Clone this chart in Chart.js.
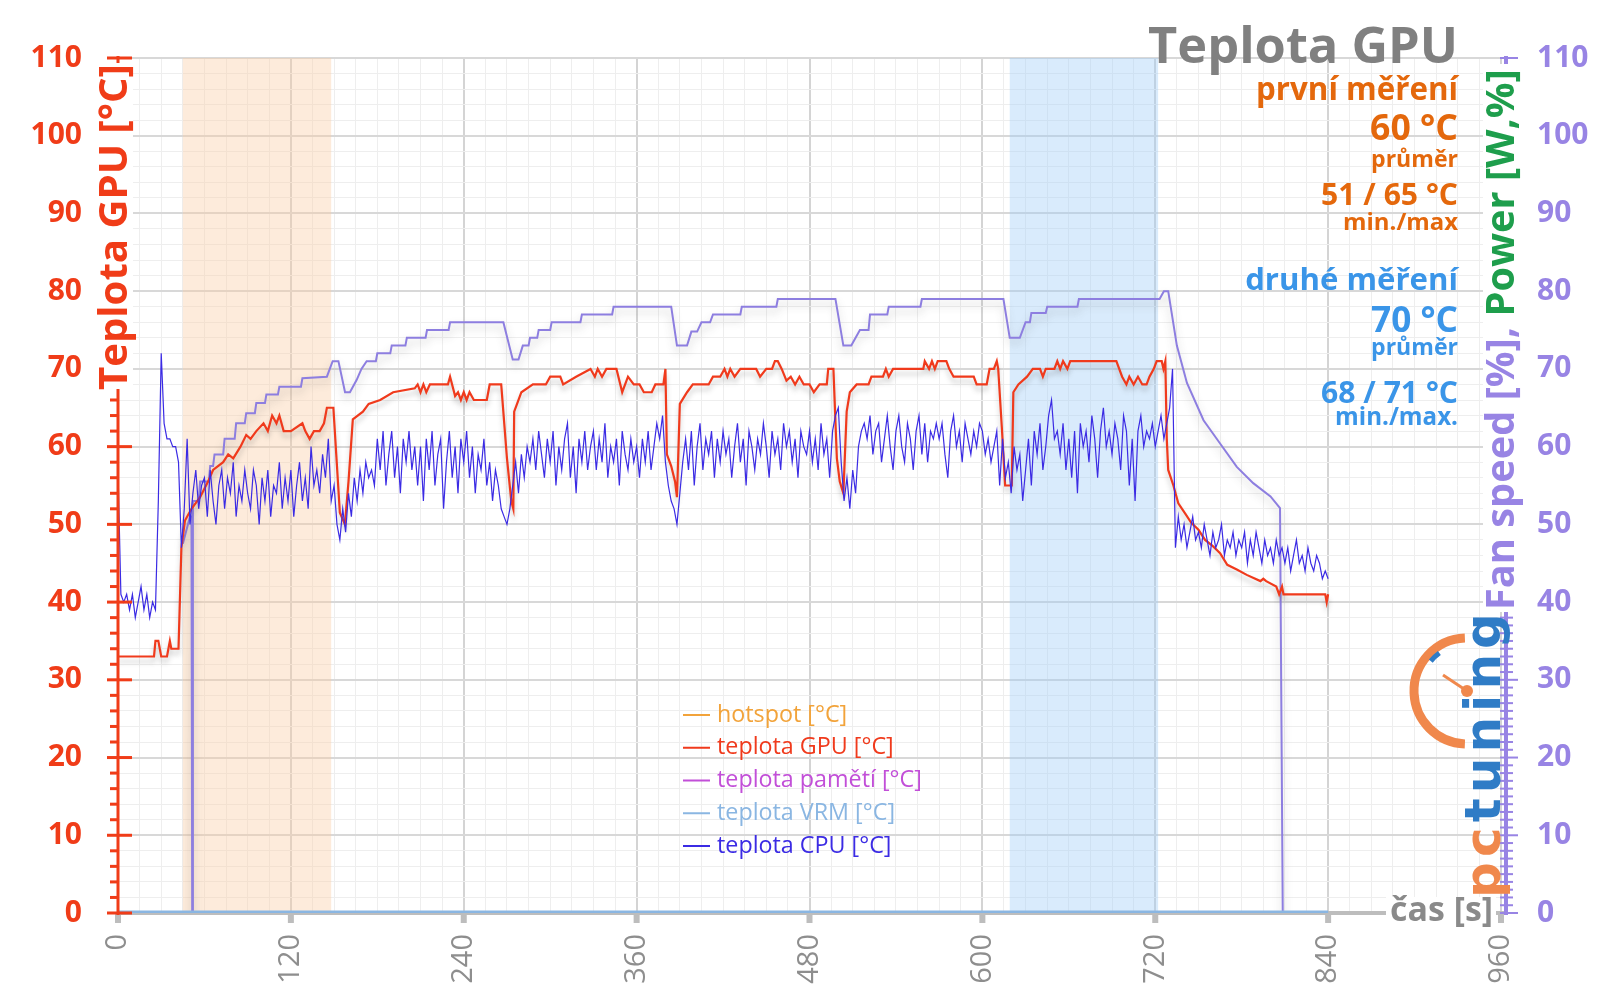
<!DOCTYPE html>
<html>
<head>
<meta charset="utf-8">
<title>Teplota GPU</title>
<script src="https://cdn.jsdelivr.net/npm/chart.js@4.4.1/dist/chart.umd.min.js"></script>
<style>
  html, body { margin: 0; padding: 0; background: #fff; }
  #wrap { width: 1600px; height: 1008px; }
</style>
</head>
<body>
<div id="wrap"><canvas id="chart" width="1600" height="1008"></canvas></div>
<script>
// ---- data ----
// osa x [s] a popisky os
const xTickLabels = [0, 120, 240, 360, 480, 600, 720, 840, 960];
const yTickLabels = [0, 10, 20, 30, 40, 50, 60, 70, 80, 90, 100, 110];

// zvýrazněné úseky měření [s]
const firstRun = [45, 148];
const secondRun = [619, 722];

// texty statistik
const titleText = 'Teplota GPU';
const statsFirst = ['první měření', '60 °C', 'průměr', '51 / 65 °C', 'min./max'];
const statsSecond = ['druhé měření', '70 °C', 'průměr', '68 / 71 °C', 'min./max.'];

// teplota GPU [°C] – body [čas, hodnota]
const gpuPoints = [[0,33],[25,33],[26,35],[28,35],[30,33],[34,33],[36,35],[37,34],[42,34],[44,47],[46.5,50.5],[51,52],[57,53.5],[62.5,55.5],[66,57],[73,58],[76.5,59],[80,58.5],[85,60],[89,61.5],[92,61],[96,62],[101,63],[104,62],[107,64],[110,63],[112,64],[115,62],[120,62],[128,63],[130,62],[133,61],[136,62],[140,62],[143,63],[145,65],[149.5,65],[154,51.5],[157.5,50],[160,55.5],[163,63.5],[170,64.5],[174,65.5],[182,66],[191,67],[206,67.5],[208,68],[210,67],[212,68],[214,67],[216.5,68],[229,68],[230.5,69],[234,66.5],[236,67],[238,66],[240,67],[242,66],[244,67],[247,66],[256,66],[258,68],[266,68],[270,58.5],[273,53],[274.4,52],[275,64.5],[277,65.5],[280,67],[288,68],[297,68],[300,69],[307,69],[309,68],[318,69],[328,70],[331,69],[333,70],[336,69],[339,70],[346,70],[350,67],[354,69],[358,68],[362,68],[365,67],[370.5,67],[373,68],[378.6,68],[380,70],[381,59],[384,57.5],[386.7,55.5],[388,53.5],[390,65.5],[395,67],[399,68],[410,68],[413,69],[418,69],[421,70],[423,69],[425,70],[428,69],[432,70],[443,70],[445.7,69],[450,70],[454,70],[456,71],[458,71],[460.7,70],[464,68.5],[467,69],[470,68],[473,69],[476,68],[480,68],[483,67],[487,68],[492,68],[493,70],[496.6,70],[499,58.5],[501,55.5],[503.5,54],[505.8,64.5],[508,67],[512.7,68],[521,68],[523,69],[531,69],[533,70],[535,69],[538,70],[559,70],[560,71],[563,70],[565,71],[567,70],[569,71],[575,71],[577,70],[580,69],[594,69],[596,68],[603,68],[605,70],[608,70],[610,71],[611,70],[613.5,62.5],[615.8,55],[620.4,55],[621.5,67],[625,68],[631,69],[635,70],[640,70],[642,69],[644,70],[650,70],[652,71],[654,70],[656,71],[659,70],[661,71],[693,71],[697,69],[700,68],[702,69],[705,68],[708,69],[711,68],[714,68],[716,69],[719,70],[721,71],[724.5,71],[725.7,70],[727,71],[728,61],[729,57],[732.6,55],[736,52.7],[740.7,51.4],[745,50.2],[750,49.3],[754.6,48],[760,47.2],[765,46.3],[770,44.8],[776.6,44.2],[783.5,43.5],[793,42.7],[795,43],[797,42.7],[804,42],[806,41],[808,42],[809,41],[838,41],[839,40],[840,41]];

// otáčky ventilátoru [%] – body [čas, hodnota]
const fanPoints = [[45,47.5],[50,51],[51,51],[51.5,0],[52,53],[56,53],[57,55.5],[63,55.5],[64,57.5],[66,57.5],[67,59],[73,59],[74,61],[81,61],[82,63],[88,63],[89,64.3],[95,64.3],[96,65.6],[102,65.6],[103,66.7],[111,66.7],[112,67.7],[127,67.7],[128,68.8],[145,69],[149,71],[153,71],[157.6,67],[161,67],[165.7,68.6],[169,70],[172.6,71],[179,71],[180,72],[189,72],[190,73],[199.5,73],[200.5,74],[213.5,74],[214.5,75],[229.5,75],[230.5,76],[267.5,76],[274,71.2],[278,71.2],[281,73],[285,73],[286,74],[291,74],[292,75],[300,75],[301,76],[321,76],[322,77],[343,77],[344,78],[384,78],[388,73],[395,73],[398,74.8],[402,74.8],[405,76],[411,76],[413,77],[432,77],[433,78],[457,78],[458,79],[498,79],[503.5,73],[509,73],[515,75],[521,75],[522,77],[534,77],[535,78],[557,78],[558,79],[614.6,79],[619,74],[626,74],[630,76],[633,76],[634,77.2],[644,77.2],[645,78],[666,78],[667,79],[723,79],[726,80],[729,80],[735,73],[742,68.2],[753.5,63.4],[765,60.4],[776.6,57.4],[788,55.3],[800,53.6],[806.6,52.1],[808.5,0]];

// teplota VRM [°C] (nulová), hotspot a paměti bez hodnot
const vrmPoints = [[0,0],[840,0]];
const hotspotPoints = [];
const memoryPoints = [];

// teplota CPU [°C], vzorek každé 2 s od 0 s (řádek = 30 s)
const cpuStep = 2;
const cpuTemp = [
  57,41,40,41,39,41,38,40,42,39,41,38,40,39,53,
  72,63,61,61,60,60,58,47,52,61,50,54,57,52,55,
  56,51,57,53,50,55,57,52,56,54,58,51,55,53,57,
  54,52,57,55,50,56,53,57,51,55,54,58,52,56,53,
  57,51,55,58,53,56,52,60,55,57,54,59,56,61,53,
  55,50,48,52,49,54,51,56,53,57,54,58,56,57,55,
  61,57,62,55,59,62,56,60,54,61,58,62,57,60,55,
  60,53,61,57,62,55,59,61,52,58,62,56,60,54,61,
  58,62,56,60,54,59,57,61,55,58,53,57,55,52,51,
  50,52,55,58,54,59,56,60,58,61,57,62,59,56,61,
  58,62,55,60,57,61,63,56,60,54,61,58,62,57,60,
  62,57,61,58,63,56,60,58,61,55,62,59,57,61,58,
  60,56,61,58,62,57,60,63,61,64,58,55,53,52,50,
  54,58,61,57,62,55,60,63,57,61,59,62,56,61,58,
  62,59,61,56,60,63,58,61,55,62,60,57,61,59,63,
  60,56,62,59,61,57,63,60,62,58,61,56,62,60,59,
  62,58,61,57,63,59,61,56,62,64,65,58,53,56,52,
  57,54,60,62,63,61,64,59,62,63,58,61,64,60,57,
  62,64,60,58,63,61,57,62,64,59,63,58,62,61,63,
  61,63,59,56,62,64,60,62,58,63,61,59,62,60,63,
  62,59,61,58,60,62,55,61,56,58,54,60,57,59,53,
  57,61,55,62,59,63,57,60,64,66,61,62,59,63,57,
  61,56,62,54,63,60,62,58,64,61,56,62,65,60,62,
  59,63,61,57,64,62,55,61,53,62,64,60,62,61,63,
  60,62,64,61,63,65,70,47,51,48,50,47,49,51,48,
  49,47,50,48,46,49,47,48,50,46,48,47,49,46,48,
  47,49,45,48,46,49,47,45,48,46,47,45,48,46,47,
  45,47,44,46,48,45,46,44,47,45,44,46,45,43,44,
  43
];

// ---- vzhled ----
const FONT = '"Open Sans", "Noto Sans", sans-serif';
const COL = {
  axisRed: '#F03C18',
  gpu: '#F03A1C',
  cpu: '#3B2BE4',
  fan: '#8D7EE0',
  vrm: '#8AB6E2',
  hot: '#F2A33A',
  mem: '#C24FD8',
  rightAxis: '#9884E4',
  green: '#1E9E4C',
  gray: '#808080',
  orange: '#E4680C',
  blue: '#3A95E8'
};

const toXY = arr => arr.map(p => ({ x: p[0], y: p[1] }));
const cpuXY = cpuTemp.map((v, i) => ({ x: i * cpuStep, y: v }));

function fitSize(ctx, text, weight, width) {
  ctx.font = `${weight} 100px ${FONT}`;
  return 100 * width / ctx.measureText(text).width;
}

function rightText(ctx, text, x, y, width, weight, color) {
  const size = fitSize(ctx, text, weight, width);
  ctx.font = `${weight} ${size}px ${FONT}`;
  ctx.fillStyle = color;
  ctx.textAlign = 'right';
  ctx.textBaseline = 'alphabetic';
  ctx.fillText(text, x, y);
}

// stín pod čarami
const shadowPlugin = {
  id: 'shadow',
  beforeDatasetDraw(chart, args) {
    const ds = chart.data.datasets[args.index];
    if (!ds.shadowBlur) return;
    const ctx = chart.ctx;
    ctx.save();
    ctx.shadowColor = 'rgba(70,70,70,0.28)';
    ctx.shadowBlur = ds.shadowBlur;
    ctx.shadowOffsetY = 5;
  },
  afterDatasetDraw(chart, args) {
    if (chart.data.datasets[args.index].shadowBlur) chart.ctx.restore();
  }
};

// osy, popisky, legenda, logo
const chromePlugin = {
  id: 'chrome',
  beforeDatasetsDraw(chart) {
    const { ctx, chartArea: a, scales: { x } } = chart;
    ctx.save();
    [[firstRun, 'rgba(250,205,165,0.40)'], [secondRun, 'rgba(160,205,248,0.40)']].forEach(([r, c]) => {
      const x0 = x.getPixelForValue(r[0]);
      const x1 = x.getPixelForValue(r[1]);
      ctx.fillStyle = c;
      ctx.fillRect(x0, a.top, x1 - x0, a.bottom - a.top);
    });
    ctx.fillStyle = '#BDBDBD';
    ctx.fillRect(a.left, a.bottom - 2, a.right - a.left + 4, 4);
    xTickLabels.forEach(v => {
      const px = x.getPixelForValue(v);
      ctx.fillRect(px - 3, a.bottom, 6, 10);
    });
    ctx.restore();
  },
  afterDatasetsDraw(chart) {
    const { ctx, chartArea: a, scales: { y } } = chart;
    ctx.save();

    // levá osa
    ctx.fillStyle = COL.axisRed;
    ctx.fillRect(a.left - 1.5, a.top - 2, 3, a.bottom - a.top + 4);
    for (let v = 0; v <= 110; v += 2) {
      const py = y.getPixelForValue(v);
      if (v % 10 === 0) ctx.fillRect(a.left - 11, py - 1.5, 25, 3);
      else ctx.fillRect(a.left - 8, py - 1.5, 8, 3);
    }

    // pravá osa
    const rx = a.right + 5;
    ctx.fillStyle = COL.rightAxis;
    ctx.fillRect(rx - 2, a.top - 2, 4, a.bottom - a.top + 4);
    for (let v = 0; v <= 110; v += 1) {
      const py = y.getPixelForValue(v);
      ctx.fillRect(rx - 6, py - 1, v % 10 === 0 ? 18 : 13, 2);
    }

    // název levé osy
    ctx.fillStyle = '#fff';
    ctx.fillRect(96, 63, 37, 326);
    ctx.save();
    ctx.translate(116, 390);
    ctx.rotate(-Math.PI / 2);
    const lt = 'Teplota GPU [°C]';
    ctx.font = `bold ${fitSize(ctx, lt, 'bold', 326)}px ${FONT}`;
    ctx.fillStyle = COL.axisRed;
    ctx.textAlign = 'left';
    ctx.textBaseline = 'middle';
    ctx.fillText(lt, 0, 0);
    ctx.restore();

    // název pravé osy
    ctx.fillStyle = '#fff';
    ctx.fillRect(1483, 64, 38, 548);
    ctx.save();
    ctx.translate(1503, 610);
    ctx.rotate(-Math.PI / 2);
    const parts = [['Fan speed [%], ', COL.rightAxis], ['Power [W,%]', COL.green]];
    const full = parts.map(p => p[0]).join('');
    ctx.font = `bold ${fitSize(ctx, full, 'bold', 541)}px ${FONT}`;
    ctx.textAlign = 'left';
    ctx.textBaseline = 'middle';
    let off = 0;
    parts.forEach(([t, c]) => {
      ctx.fillStyle = c;
      ctx.fillText(t, off, 0);
      off += ctx.measureText(t).width;
    });
    ctx.restore();

    // čas [s]
    ctx.fillStyle = '#fff';
    ctx.fillRect(1386, 897, 110, 34);
    const ct = 'čas [s]';
    ctx.font = `bold ${fitSize(ctx, ct, 'bold', 103)}px ${FONT}`;
    ctx.fillStyle = '#8A8A8A';
    ctx.textAlign = 'right';
    ctx.textBaseline = 'middle';
    ctx.fillText(ct, 1493, 911);

    // legenda
    const items = chart.data.datasets.filter(d => d.inLegend);
    const lsize = fitSize(ctx, 'teplota pamětí [°C]', 'normal', 205);
    ctx.font = `normal ${lsize}px ${FONT}`;
    ctx.textAlign = 'left';
    ctx.textBaseline = 'middle';
    items.forEach((d, i) => {
      const cy = 715 + i * 32.75;
      ctx.fillStyle = d.borderColor;
      ctx.fillRect(683, cy - 1, 27, 2);
      ctx.fillText(d.label, 717, cy);
    });

    // nadpis a statistiky
    rightText(ctx, titleText, 1458, 63, 310, 'bold', COL.gray);
    const b1 = [100, 140, 167, 205, 230], w1 = [202, 88, 87, 137, 115];
    const b2 = [290, 332, 355, 403, 425], w2 = [213, 87, 87, 137, 123];
    statsFirst.forEach((t, i) => rightText(ctx, t, 1458, b1[i], w1[i], 'bold', COL.orange));
    statsSecond.forEach((t, i) => rightText(ctx, t, 1458, b2[i], w2[i], 'bold', COL.blue));

    drawLogo(ctx);
    ctx.restore();
  }
};

function drawLogo(ctx) {
  ctx.save();
  const cx = 1467, cy = 691;
  ctx.strokeStyle = '#F0884C';
  ctx.lineWidth = 9;
  ctx.beginPath();
  ctx.arc(cx, cy, 53, -Math.PI / 2 - 0.04, Math.PI / 2 + 0.04, true);
  ctx.stroke();
  ctx.strokeStyle = '#2F7CC6';
  ctx.lineWidth = 5;
  ctx.beginPath();
  ctx.arc(cx, cy, 47, 1.22 * Math.PI, 1.3 * Math.PI);
  ctx.stroke();
  ctx.strokeStyle = '#F0884C';
  ctx.lineWidth = 3;
  ctx.beginPath();
  ctx.moveTo(cx, cy);
  ctx.lineTo(cx - 24, cy - 16);
  ctx.stroke();
  ctx.fillStyle = '#F0884C';
  ctx.beginPath();
  ctx.arc(cx, cy, 6, 0, Math.PI * 2);
  ctx.fill();

  ctx.translate(1500, 898);
  ctx.rotate(-Math.PI / 2);
  const fam = '"DejaVu Sans", sans-serif';
  ctx.font = `bold 50px ${fam}`;
  const natural = ctx.measureText('pctuning').width;
  const spacing = Math.max(0, (290 - natural) / 8);
  ctx.letterSpacing = spacing + 'px';
  ctx.textAlign = 'left';
  ctx.textBaseline = 'alphabetic';
  ctx.fillStyle = '#F0884C';
  ctx.fillText('pc', 0, 0);
  const wpc = ctx.measureText('pc').width;
  ctx.fillStyle = '#2F7CC6';
  ctx.fillText('tuning', wpc, 0);
  ctx.restore();
}

Chart.defaults.font.family = FONT;

new Chart(document.getElementById('chart').getContext('2d'), {
  type: 'line',
  data: {
    datasets: [
      { label: 'hotspot [°C]', data: toXY(hotspotPoints), borderColor: COL.hot, borderWidth: 2, inLegend: true, order: 5 },
      { label: 'teplota GPU [°C]', data: toXY(gpuPoints), borderColor: COL.gpu, borderWidth: 2.2, shadowBlur: 5, inLegend: true, order: 1 },
      { label: 'teplota pamětí [°C]', data: toXY(memoryPoints), borderColor: COL.mem, borderWidth: 2, inLegend: true, order: 6 },
      { label: 'teplota VRM [°C]', data: toXY(vrmPoints), borderColor: COL.vrm, borderWidth: 5, inLegend: true, order: 2 },
      { label: 'teplota CPU [°C]', data: cpuXY, borderColor: COL.cpu, borderWidth: 1.2, inLegend: true, order: 0 },
      { label: 'Fan speed [%]', data: toXY(fanPoints), borderColor: COL.fan, borderWidth: 2, shadowBlur: 8, yAxisID: 'y2', inLegend: false, order: 3 }
    ]
  },
  options: {
    responsive: false,
    animation: false,
    layout: { padding: { top: 58, left: 0, right: 0, bottom: 0 } },
    elements: { point: { radius: 0 }, line: { tension: 0 } },
    plugins: { legend: { display: false }, tooltip: { enabled: false } },
    scales: {
      x: {
        type: 'linear',
        min: 0,
        max: 960,
        afterFit: s => { s.height = 95; },
        border: { display: false },
        grid: {
          drawTicks: false,
          color: c => xTickLabels.includes(c.tick.value) ? '#D4D4D4' : '#EEEEEE',
          lineWidth: c => xTickLabels.includes(c.tick.value) ? 2 : 1
        },
        ticks: {
          stepSize: 15,
          autoSkip: false,
          minRotation: 90,
          maxRotation: 90,
          padding: 21,
          color: '#8E8E8E',
          font: { size: 29 },
          callback: v => xTickLabels.includes(v) ? String(v) : ''
        }
      },
      y: {
        min: 0,
        max: 110,
        afterFit: s => { s.width = 118; },
        border: { display: false },
        grid: {
          drawTicks: false,
          color: c => yTickLabels.includes(c.tick.value) ? '#D8D8D8' : '#EEEEEE',
          lineWidth: c => yTickLabels.includes(c.tick.value) ? 2 : 1
        },
        ticks: {
          stepSize: 2,
          autoSkip: false,
          padding: 36,
          color: COL.axisRed,
          font: { size: 30, weight: 'bold' },
          callback: v => yTickLabels.includes(v) ? String(v) : ''
        }
      },
      y2: {
        position: 'right',
        min: 0,
        max: 110,
        afterFit: s => { s.width = 99; },
        border: { display: false },
        grid: { display: false, drawTicks: false },
        ticks: {
          stepSize: 10,
          autoSkip: false,
          padding: 36,
          color: COL.rightAxis,
          font: { size: 30, weight: 'bold' }
        }
      }
    }
  },
  plugins: [shadowPlugin, chromePlugin]
});
</script>
</body>
</html>
